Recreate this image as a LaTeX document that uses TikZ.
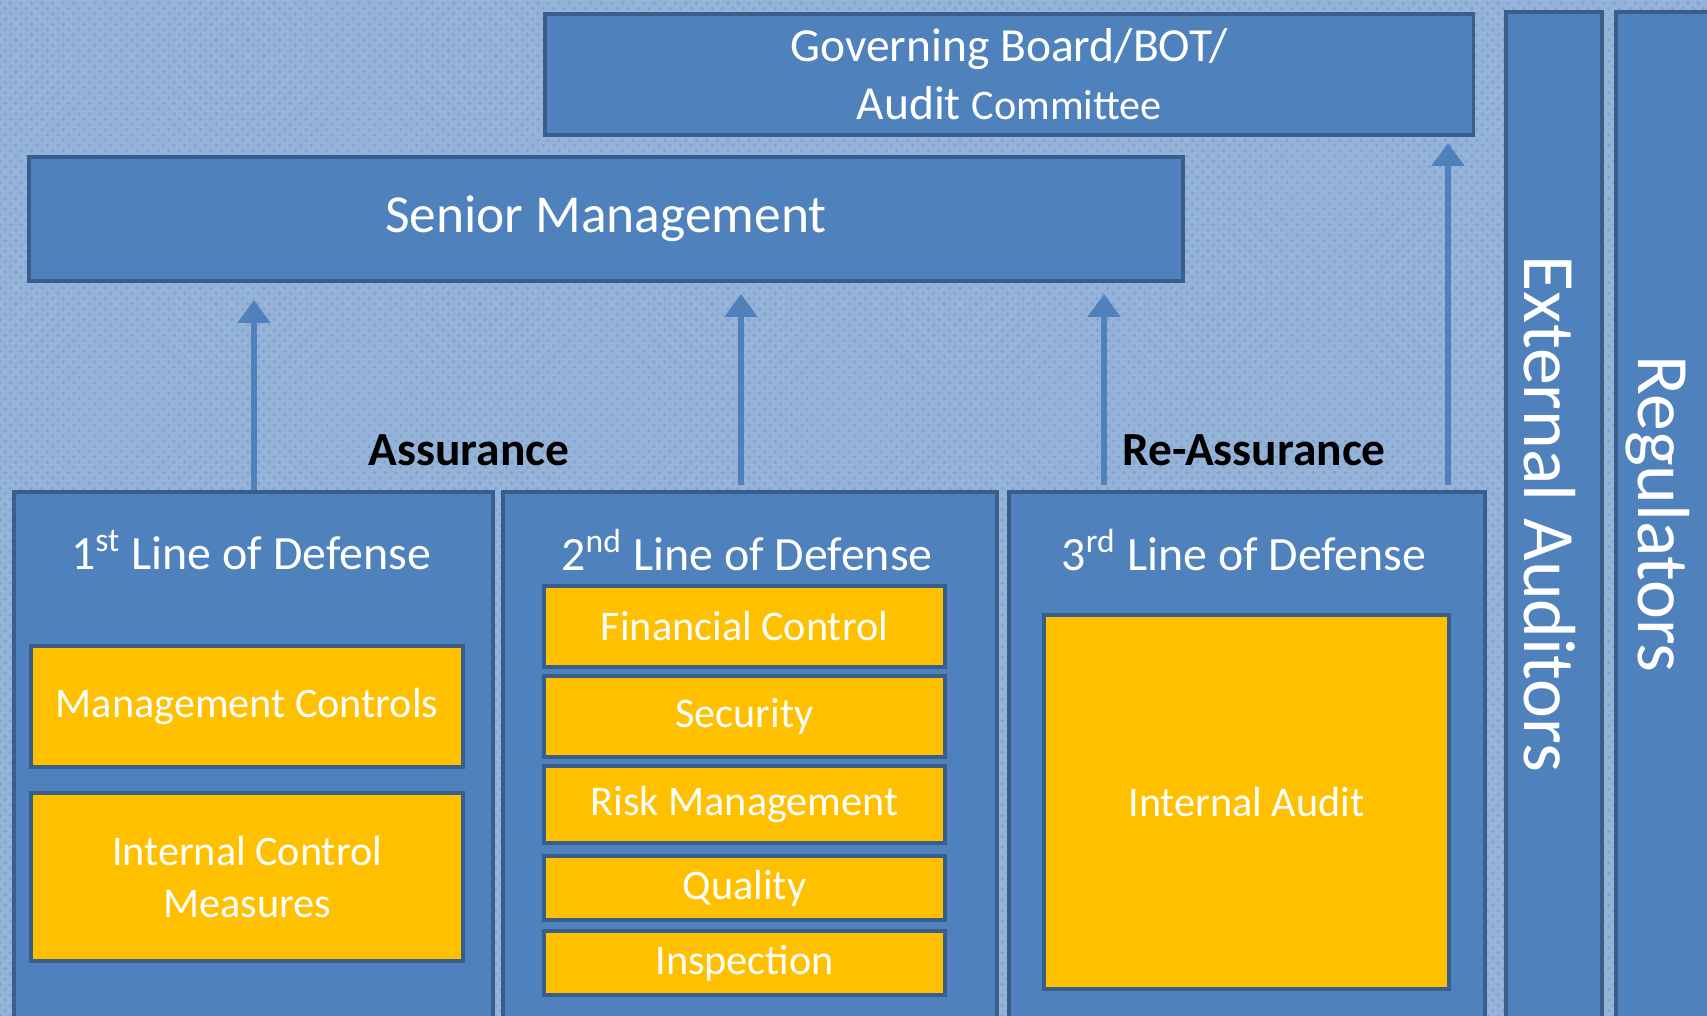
\documentclass[tikz,border=0pt]{standalone}
\usepackage{fontspec}
\setmainfont{Carlito}
\usetikzlibrary{arrows.meta,patterns,positioning}
\definecolor{bgblue}{HTML}{95B3D7}
\definecolor{dotblue}{HTML}{7FA2D9}
\definecolor{boxblue}{HTML}{4F81BD}
\definecolor{edgeblue}{HTML}{3A5E8C}
\definecolor{ambar}{HTML}{FFC000}
\tikzset{
    pane/.style={draw=edgeblue, fill=boxblue, line width=1.1pt, anchor=north west, inner sep=0pt},
    tile/.style={draw=edgeblue, fill=ambar, line width=1.1pt, anchor=north west, inner sep=0pt,
        text=white, align=center, font=\fontsize{12}{14.8}\selectfont},
    heading/.style={text=white, font=\fontsize{13.6}{16}\selectfont},
    sidetext/.style={text=white, rotate=-90, font=\fontsize{21}{24}\selectfont},
    tag/.style={text=black, font=\bfseries\fontsize{13.5}{16}\selectfont},
    rise/.style={draw=boxblue, line width=1.7pt, -{Triangle[width=9pt,length=6.5pt]}}
}
\begin{document}
\begin{tikzpicture}[x=0.01cm, y=-0.01cm]
    \useasboundingbox (0,0) rectangle (1707,1016);
    \fill[bgblue] (0,0) rectangle (1707,1016);
    \fill[pattern=crosshatch dots, pattern color=dotblue] (0,0) rectangle (1707,1016);

    \node[pane, minimum width=9.28cm, minimum height=1.21cm, text=white, align=center,
        font=\fontsize{13.5}{16.5}\selectfont] (gov) at (543,12)
        {Governing Board/BOT/\\Audit {\fontsize{12}{14}\selectfont Committee}};
    \node[pane, minimum width=11.53cm, minimum height=1.24cm, text=white,
        font=\fontsize{15.2}{18}\selectfont] (senior) at (27,155) {\raisebox{-1pt}{Senior Management}};

    \node[pane, minimum width=0.96cm, minimum height=10.3cm] (extaud) at (1504,10) {};
    \node[pane, minimum width=1.10cm, minimum height=10.3cm] (regul) at (1614,10) {};
    \node[sidetext] (extaudtext) at (1550,514) {External Auditors};
    \node[sidetext] (regultext) at (1658,514) {Regulators};

    \node[pane, minimum width=4.79cm, minimum height=5.6cm] (line1) at (12,490) {};
    \node[pane, minimum width=4.94cm, minimum height=5.6cm] (line2) at (501,490) {};
    \node[pane, minimum width=4.76cm, minimum height=5.6cm] (line3) at (1007,490) {};
    \node[heading] (head1) at (251,550) {1\textsuperscript{st} Line of Defense};
    \node[heading] (head2) at (747,550) {2\textsuperscript{nd} Line of Defense};
    \node[heading] (head3) at (1244,550) {3\textsuperscript{rd} Line of Defense};

    \node[tile, minimum width=4.32cm, minimum height=1.21cm] (mgmt) at (29,644) {Management Controls};
    \node[tile, minimum width=4.32cm, minimum height=1.68cm] (icm) at (29,791) {Internal Control\\Measures};

    \node[tile, minimum width=4.01cm, minimum height=0.81cm] (fin) at (542,584) {Financial Control};
    \node[tile, minimum width=4.01cm, minimum height=0.81cm] (sec) at (542,674) {Security};
    \node[tile, minimum width=4.01cm, minimum height=0.77cm] (risk) at (542,764) {Risk Management};
    \node[tile, minimum width=4.01cm, minimum height=0.64cm] (qual) at (542,854) {Quality};
    \node[tile, minimum width=4.01cm, minimum height=0.64cm] (insp) at (542,929) {Inspection};

    \node[tile, minimum width=4.05cm, minimum height=3.74cm] (ia) at (1042,613) {Internal Audit};

    \node[tag] (assur) at (469,450) {Assurance};
    \node[tag] (reassur) at (1254,450) {Re-Assurance};

    \coordinate (t1) at (254,300);
    \coordinate (t2) at (741,294);
    \coordinate (t3) at (1104,294);
    \coordinate (t4) at (1448,143);
    \draw[rise] (line1.north -| t1) -- (t1);
    \draw[rise] ([yshift=1.5pt]line2.north -| t2) -- (t2);
    \draw[rise] ([yshift=1.5pt]line3.north -| t3) -- (t3);
    \draw[rise] ([yshift=1.5pt]line3.north -| t4) -- (t4);
\end{tikzpicture}
\end{document}
